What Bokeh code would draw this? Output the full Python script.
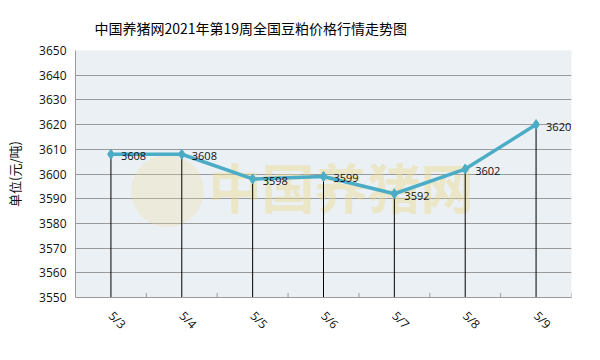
import math
from bokeh.plotting import figure
from bokeh.models import FactorRange, Range1d, Label, LabelSet, ColumnDataSource, FixedTicker
from bokeh.embed import file_html
from bokeh.resources import INLINE
from bokeh.core.properties import value

# ---- data ----
dates = ["5/3", "5/4", "5/5", "5/6", "5/7", "5/8", "5/9"]
prices = [3608, 3608, 3598, 3599, 3592, 3602, 3620]
y_ticks = [3550, 3560, 3570, 3580, 3590, 3600, 3610, 3620, 3630, 3640, 3650]
y_min, y_max = 3550, 3650
title_text = "中国养猪网2021年第19周全国豆粕价格行情走势图"
y_label = "单位(元/吨)"
watermark_text = "中国养猪网"

LINE_COLOR = "#4BACC6"
GRID_COLOR = "#9a9a9a"
FONT = "Open Sans"
CJK = "Noto Sans CJK SC"

p = figure(
    width=584, height=344,
    x_range=FactorRange(factors=dates),
    y_range=Range1d(y_min, y_max),
    output_backend="svg", toolbar_location=None,
    min_border_left=75, min_border_right=13,
    min_border_top=50, min_border_bottom=47,
)
p.background_fill_color = "#EAF0F4"
p.border_fill_color = "white"
p.outline_line_color = None

# title
p.title.text = title_text
p.title.align = "left"
p.title.offset = 19
p.title.standoff = 25
p.title.text_font = CJK
p.title.text_font_size = "14px"
p.title.text_font_style = "normal"
p.title.text_color = "#000000"

# watermark
wm_logo = Label(x=92, y=112, x_units="screen", y_units="screen", text="●",
                text_font=CJK, text_font_size="80px", text_color="#eedc9a",
                text_alpha=0.28, text_align="center", text_baseline="middle",
                level="underlay")
wm = Label(x=133, y=112, x_units="screen", y_units="screen", text=watermark_text,
           text_font=CJK, text_font_size="53px", text_font_style="bold",
           text_color="#ecd98f", text_alpha=0.45, text_baseline="middle",
           level="underlay")
p.add_layout(wm_logo)
p.add_layout(wm)

# grid
p.xgrid.grid_line_color = None
p.ygrid.ticker = FixedTicker(ticks=y_ticks)
p.ygrid.grid_line_color = GRID_COLOR
p.ygrid.grid_line_width = 1

# y axis
p.yaxis.ticker = FixedTicker(ticks=y_ticks)
p.yaxis.axis_label = y_label
p.yaxis.axis_label_text_font = CJK
p.yaxis.axis_label_text_font_size = "13px"
p.yaxis.axis_label_text_font_style = "normal"
p.yaxis.axis_label_text_color = "#111111"
p.yaxis.axis_label_standoff = 12
p.yaxis.major_label_text_font = FONT
p.yaxis.major_label_text_font_size = "12px"
p.yaxis.major_label_text_color = "#111111"
p.yaxis.major_label_standoff = 9
p.yaxis.major_tick_out = 0
p.yaxis.major_tick_in = 0
p.yaxis.minor_tick_out = 0
p.yaxis.minor_tick_in = 0
p.yaxis.axis_line_color = GRID_COLOR

# x axis
p.xaxis.major_label_orientation = -math.pi / 4
p.xaxis.major_label_text_font = FONT
p.xaxis.major_label_text_font_size = "12px"
p.xaxis.major_label_text_color = "#111111"
p.xaxis.major_label_standoff = 16
p.xaxis.major_tick_out = 0
p.xaxis.major_tick_in = 0
p.xaxis.axis_line_color = GRID_COLOR

src = ColumnDataSource(dict(
    x=dates, y=prices, base=[y_min] * len(dates),
    lab=[str(v) for v in prices],
))

# category boundary ticks (half-clipped vertical dashes on the axis)
p.scatter(x=list(range(len(dates) + 1)), y=[y_min] * (len(dates) + 1),
          marker="dash", angle=math.pi / 2, size=9,
          line_color=GRID_COLOR, line_width=1)

# drop lines
p.segment(x0="x", y0="base", x1="x", y1="y", source=src,
          line_color="black", line_width=1)

# series
p.line(x="x", y="y", source=src, line_color=LINE_COLOR, line_width=3.5)
p.scatter(x="x", y="y", source=src, marker="diamond", size=10,
          fill_color=LINE_COLOR, line_color=LINE_COLOR)

# data labels
labels = LabelSet(x="x", y="y", text="lab", source=src, x_offset=10, y_offset=-2,
                  text_font=value(FONT), text_font_size=value("11px"),
                  text_color="#111111",
                  text_baseline="middle", text_align="left")
p.add_layout(labels)

open("out.html", "w").write(file_html(p, INLINE))
